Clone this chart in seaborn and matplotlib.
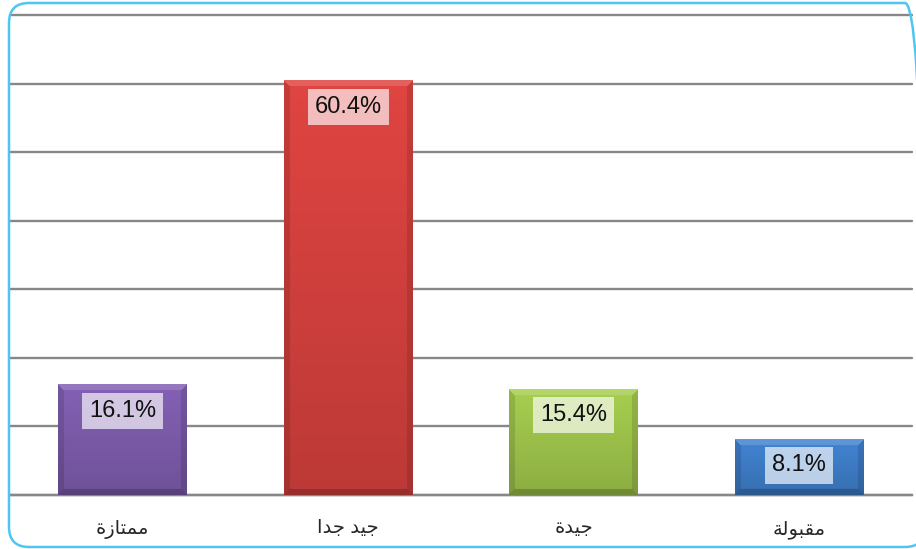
import numpy as np
import pandas as pd
import matplotlib
matplotlib.use("Agg")
import matplotlib.pyplot as plt
from matplotlib.patches import FancyBboxPatch
from matplotlib.colors import to_rgb
import seaborn as sns

# Ratings and their shares (percent)
categories = ["ممتازة", "جيد جدا", "جيدة", "مقبولة"]
shares = [16.1, 60.4, 15.4, 8.1]
bar_colors = ["#7B5AA9", "#D1403D", "#9CC14A", "#3D7BC5"]

# Arabic letters -> (isolated, final, initial, medial) presentation forms
FORMS = {
    "ا": (0xFE8D, 0xFE8E, None, None),
    "ب": (0xFE8F, 0xFE90, 0xFE91, 0xFE92),
    "ة": (0xFE93, 0xFE94, None, None),
    "ت": (0xFE95, 0xFE96, 0xFE97, 0xFE98),
    "ج": (0xFE9D, 0xFE9E, 0xFE9F, 0xFEA0),
    "د": (0xFEA9, 0xFEAA, None, None),
    "ز": (0xFEAF, 0xFEB0, None, None),
    "ق": (0xFED5, 0xFED6, 0xFED7, 0xFED8),
    "ل": (0xFEDD, 0xFEDE, 0xFEDF, 0xFEE0),
    "م": (0xFEE1, 0xFEE2, 0xFEE3, 0xFEE4),
    "و": (0xFEED, 0xFEEE, None, None),
    "ي": (0xFEF1, 0xFEF2, 0xFEF3, 0xFEF4),
}


def shape_arabic(text):
    """Join Arabic letters and order them for left-to-right rendering."""
    out = []
    for i, ch in enumerate(text):
        if ch not in FORMS:
            out.append(ch)
            continue
        forms = FORMS[ch]
        prev = text[i - 1] if i > 0 else None
        nxt = text[i + 1] if i + 1 < len(text) else None
        joins_prev = prev in FORMS and FORMS[prev][2] is not None
        joins_next = nxt in FORMS and forms[2] is not None
        if joins_prev and joins_next:
            code = forms[3]
        elif joins_prev:
            code = forms[1]
        elif joins_next:
            code = forms[2]
        else:
            code = forms[0]
        out.append(chr(code))
    return "".join(reversed(out))


sns.set_style("white")
plt.rcParams["font.family"] = ["Liberation Sans", "DejaVu Sans"]

df = pd.DataFrame({"rating": categories, "share": shares})

W, H = 916, 549
fig = plt.figure(figsize=(W / 100, H / 100), dpi=100)
ax = fig.add_axes([10 / W, 1 - 495 / H, (912 - 10) / W, (495 - 15) / H])

sns.barplot(data=df, x="rating", y="share", hue="rating", palette=bar_colors,
            legend=False, width=0.57, ax=ax, zorder=3, saturation=1)

ax.set_ylim(0, 70)
ax.set_xlim(-0.5, len(categories) - 0.5)
ax.set_yticks(np.arange(0, 71, 10))
ax.set_yticklabels([])
ax.tick_params(axis="y", length=0)
ax.yaxis.grid(True, color="#878787", linewidth=1.7, zorder=0)
for gl in ax.get_ygridlines():
    gl.set_clip_on(False)
ax.set_axisbelow(True)
for s in ["left", "right", "top"]:
    ax.spines[s].set_visible(False)
ax.spines["bottom"].set_color("#878787")
ax.spines["bottom"].set_linewidth(1.7)
ax.set_xlabel("")
ax.set_ylabel("")

ax.set_xticks(range(len(categories)))
ax.set_xticklabels([shape_arabic(c) for c in categories], fontsize=14)
ax.set_xticks(np.arange(-0.5, len(categories), 1.0), minor=True)
ax.tick_params(axis="x", which="major", length=0, pad=18)
ax.tick_params(axis="x", which="minor", length=6, width=1.2, color="#878787",
               direction="out")

# Bevelled gradient fill for each bar
px_per_unit = (495 - 15) / 70.0
for patch, col in zip(ax.patches, bar_colors):
    x0, y0 = patch.get_x(), patch.get_y()
    w, h = patch.get_width(), patch.get_height()
    base = np.array(to_rgb(col))
    ny = max(int(h * px_per_unit), 2)
    nx = 128
    yy = np.linspace(0, 1, ny)[:, None]          # 0 top, 1 bottom
    img = np.ones((ny, nx, 3)) * base
    shade = 1.07 - 0.17 * yy                      # lighter top, darker bottom
    img = img * shade[..., None]
    bev = 6
    rows = np.arange(ny)[:, None] * np.ones((1, nx))
    cols = np.ones((ny, 1)) * np.arange(nx)[None, :]
    dt, db = rows, ny - 1 - rows
    dl, dr = cols, nx - 1 - cols
    dmin = np.minimum(np.minimum(dt, db), np.minimum(dl, dr))
    edge = dmin < bev
    top_e = edge & (dt == dmin)
    bot_e = edge & (db == dmin) & ~top_e
    side_e = edge & ~top_e & ~bot_e
    img[top_e] = img[top_e] * 0.85 + 0.15
    img[bot_e] = img[bot_e] * 0.8
    img[side_e] = img[side_e] * 0.88
    img = np.clip(img, 0, 1)
    patch.set_alpha(0)
    ax.imshow(img, extent=(x0, x0 + w, y0, y0 + h), aspect="auto",
              interpolation="bilinear", zorder=3)

# Value labels inside the top of each bar
for i, v in enumerate(shares):
    ax.annotate(f"{v}%", xy=(i, v), xytext=(0, -26), textcoords="offset pixels",
                ha="center", va="center", fontsize=17, color="#111111", zorder=5,
                bbox=dict(boxstyle="square,pad=0.3", fc="white", ec="none",
                          alpha=0.66))

ax.set_xlim(-0.5, len(categories) - 0.5)
ax.set_ylim(0, 70)

# Rounded chart frame (pixel coordinates, runs past the right edge)
frame = FancyBboxPatch((9, 2), 925 - 9, 546 - 2,
                       boxstyle="round,pad=0,rounding_size=20",
                       transform=None, fill=False,
                       ec="#4FC6F2", lw=1.8, zorder=10)
fig.patches.append(frame)

fig.savefig("out.png", dpi=100)
